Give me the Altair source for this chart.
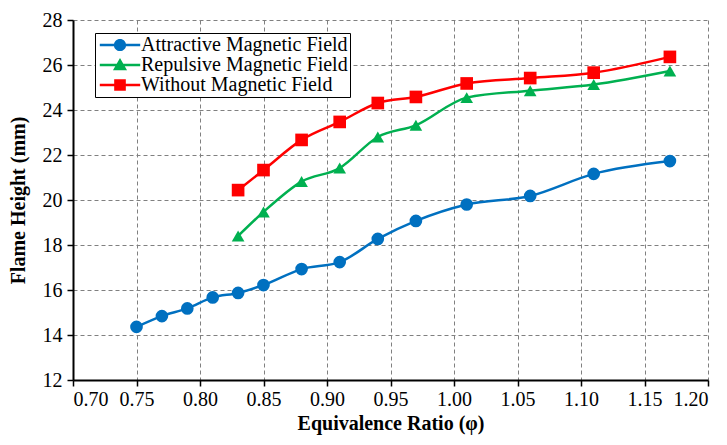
import altair as alt
import pandas as pd

series_names = ["Attractive Magnetic Field", "Repulsive Magnetic Field", "Without Magnetic Field"]
colors = ["#0070C0", "#00B050", "#FF0000"]
shapes = ["circle", "triangle-up", "square"]

x_attr = [0.75, 0.77, 0.79, 0.81, 0.83, 0.85, 0.88, 0.91, 0.94, 0.97, 1.01, 1.06, 1.11, 1.17]
y_attr = [14.36, 14.84, 15.18, 15.67, 15.87, 16.22, 16.93, 17.24, 18.27, 19.07, 19.80, 20.18, 21.16, 21.73]

x_rep = [0.83, 0.85, 0.88, 0.91, 0.94, 0.97, 1.01, 1.06, 1.11, 1.17]
y_rep = [18.40, 19.47, 20.82, 21.42, 22.80, 23.32, 24.55, 24.86, 25.13, 25.73]

x_wo = [0.83, 0.85, 0.88, 0.91, 0.94, 0.97, 1.01, 1.06, 1.11, 1.17]
y_wo = [20.44, 21.33, 22.67, 23.47, 24.31, 24.58, 25.18, 25.42, 25.66, 26.36]

x_ticks = [0.70, 0.75, 0.80, 0.85, 0.90, 0.95, 1.00, 1.05, 1.10, 1.15, 1.20]
y_ticks = [12, 14, 16, 18, 20, 22, 24, 26, 28]

rows = []
for name, xs, ys in zip(series_names, [x_attr, x_rep, x_wo], [y_attr, y_rep, y_wo]):
    for xv, yv in zip(xs, ys):
        rows.append({"phi": xv, "h": yv, "series": name})
df = pd.DataFrame(rows)

FONT = "Times New Roman"

legend_paths = [
    "M-3.3,-0.22H3.3V0.22H-3.3Z M-1,0 A1,1 0 1,1 1,0 A1,1 0 1,1 -1,0 Z",
    "M-3.3,-0.22H3.3V0.22H-3.3Z M0,-1.15 L1.15,0.85 L-1.15,0.85 Z",
    "M-3.3,-0.22H3.3V0.22H-3.3Z M-0.95,-0.95H0.95V0.95H-0.95Z",
]

x_enc = alt.X("phi:Q", scale=alt.Scale(domain=[0.70, 1.20], nice=False, zero=False),
              axis=alt.Axis(values=x_ticks, format=".2f", title="Equivalence Ratio (φ)",
                            titlePadding=4, labelPadding=3, labelFont=FONT,
                            labelFontSize=20, titleFont=FONT))
y_enc = alt.Y("h:Q", scale=alt.Scale(domain=[12, 28], nice=False, zero=False),
              axis=alt.Axis(values=y_ticks, title="Flame Height (mm)", titlePadding=14,
                            labelPadding=5, labelFont=FONT, labelFontSize=20, titleFont=FONT))

color_scale = alt.Scale(domain=series_names, range=colors)

lines = alt.Chart(df).mark_line(strokeWidth=2.5, interpolate="monotone").encode(
    x=x_enc, y=y_enc,
    color=alt.Color("series:N", sort=series_names, scale=color_scale, legend=None),
)

points = alt.Chart(df).mark_point(filled=True, opacity=1, size=160).encode(
    x=x_enc, y=y_enc,
    color=alt.Color("series:N", sort=series_names, scale=color_scale, legend=None),
    shape=alt.Shape("series:N", sort=series_names,
                    scale=alt.Scale(domain=series_names, range=shapes), legend=None),
)

leg = alt.Legend(title=None, orient="none", legendX=22, legendY=13,
                 symbolSize=150, symbolOpacity=1, symbolStrokeWidth=0,
                 symbolOffset=13, labelOffset=11,
                 fillColor="white", strokeColor="black", padding=2,
                 labelFont=FONT, labelFontSize=20, labelColor="black", labelLimit=0,
                 rowPadding=-1)

legend_layer = alt.Chart(df).mark_point(filled=True, opacity=0, size=1).encode(
    x=x_enc, y=y_enc,
    color=alt.Color("series:N", sort=series_names,
                    scale=alt.Scale(domain=series_names, range=colors), legend=leg),
    shape=alt.Shape("series:N", sort=series_names,
                    scale=alt.Scale(domain=series_names, range=legend_paths), legend=leg),
)

chart = alt.layer(lines, points, legend_layer).resolve_scale(
    shape="independent", color="independent").properties(
    width=635, height=360,
    autosize=alt.AutoSizeParams(type="none"),
    padding={"left": 65, "top": 12, "right": 11, "bottom": 57},
).configure_view(strokeWidth=0).configure_axis(
    labelFont=FONT, labelFontSize=20, labelColor="black",
    titleFont=FONT, titleFontSize=20, titleFontWeight="bold", titleColor="black",
    domainColor="black", domainWidth=2, tickColor="black", tickSize=6, tickWidth=1.5,
    gridColor="#808080", gridDash=[4, 3], gridWidth=1, gridOpacity=1,
)

chart.save("out.html", embed_options={"renderer": "svg", "actions": False})
